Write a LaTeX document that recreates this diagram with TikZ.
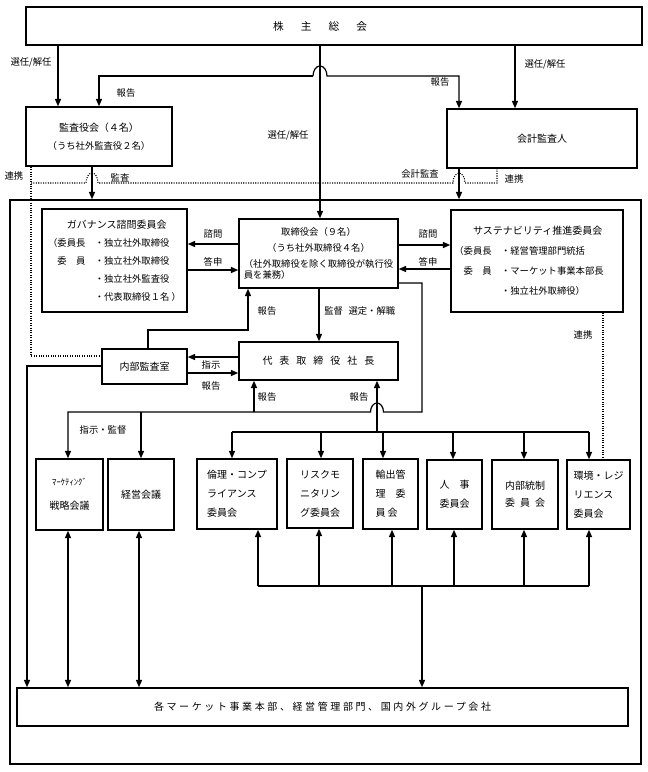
\documentclass[tikz,border=0pt]{standalone}
\usepackage{fontspec}
\setmainfont{Noto Sans CJK JP}
\usetikzlibrary{arrows.meta}

\tikzset{
  box/.style={draw, line width=1.2pt, inner sep=0pt, align=center, font=\fontsize{7}{13.5}\selectfont},
  sz/.style 2 args={minimum width=#1*0.75pt, minimum height=#2*0.75pt},
  cbox/.style={box, font=\fontsize{7.5}{14.25}\selectfont},
  wire/.style={line width=0.9pt},
  arr/.style={wire, -{Triangle[length=5.5pt,width=4.6pt]}},
  darr/.style={wire, {Triangle[length=5.5pt,width=4.6pt]}-{Triangle[length=5.5pt,width=4.6pt]}},
  link/.style={line width=0.8pt, densely dotted},
  lbl/.style={inner sep=0pt, font=\fontsize{7}{8}\selectfont},
}

\begin{document}
\begin{tikzpicture}[x=0.75pt,y=0.75pt,yscale=-1,xscale=1]
\useasboundingbox (0,0) rectangle (648,772);

%Shape: top boxes
\node[box, sz={616}{38}] (kabunushi) at (334,26) {};
\node[lbl, font=\fontsize{8}{9}\selectfont] (kabutxt) at (320,26) {株\hspace{1.6em}主\hspace{1.6em}総\hspace{1.6em}会};
\node[box, sz={146}{59}] (kansayaku) at (99,136.5) {{\fontsize{7.5}{9}\selectfont 監査役会（４名）}\\（うち社外監査役２名）};
\node[box, sz={190}{59}, font=\fontsize{7.5}{9}\selectfont] (kaikei) at (542,138.5) {会計監査人};

%Shape: frame
\node[box, sz={631}{564}] (frame) at (325.5,482) {};

%Shape: board and committees
\node[box, sz={145}{103}, align=left] (governance) at (114.5,260.5) {\hspace*{2em}{\fontsize{7.5}{9}\selectfont ガバナンス諮問委員会}\\
  \makebox[5em][l]{（委員長}・独立社外取締役\\
  \makebox[5em][l]{\hspace*{1em}委　員}・独立社外取締役\\
  \hspace*{5em}・独立社外監査役\\
  \hspace*{5em}・代表取締役１名 ）};
\node[box, sz={159}{69}, font=\fontsize{7}{12}\selectfont] (torishimari) at (318.5,253.5) {取締役会（９名）\\（うち社外取締役４名）\\（社外取締役を除く取締役が執行役\\[-3.5pt]\makebox[16em][l]{員を兼務）}};
\node[box, sz={172}{102}, align=left, font=\fontsize{7}{15}\selectfont] (sustain) at (537,261) {\hspace*{2em}{\fontsize{7.5}{9}\selectfont サステナビリティ推進委員会}\\
  \makebox[5em][l]{（委員長}・経営管理部門統括\\
  \makebox[5em][l]{\hspace*{1em}委　員}・マーケット事業本部長\rule{1.7em}{0pt}\\
  \hspace*{5em}・独立社外取締役）};

\node[box, sz={85}{35}, font=\fontsize{7.5}{9}\selectfont] (naibu) at (144.5,366.5) {内部監査室};
\node[box, sz={159}{38}, font=\fontsize{7.5}{9}\selectfont] (shacho) at (318.5,361) {代\hspace{.7em}表\hspace{.7em}取\hspace{.7em}締\hspace{.7em}役\hspace{.7em}社\hspace{.7em}長};

%Shape: meetings and committees
\node[cbox, sz={67}{71}] (mkt) at (69.5,494.5) {{\fontsize{6.5}{7}\selectfont ﾏｰｹﾃｨﾝｸﾞ}\\[4pt]戦略会議};
\node[cbox, sz={66}{71}] (keiei) at (141,494.5) {経営会議};
\node[cbox, sz={80}{70}, align=left] (rinri) at (237,494) {倫理・コンプ\\ライアンス\\委員会};
\node[cbox, sz={66}{69}, align=left] (risk) at (320,493.5) {リスクモ\\ニタリン\\グ委員会};
\node[cbox, sz={55}{70}, align=left] (yushutsu) at (390.5,494) {輸出管\\理　委\\員 会};
\node[cbox, sz={55}{69}] (jinji) at (454.5,494.5) {人　事\\委員会};
\node[cbox, sz={66}{69}, font=\fontsize{7.5}{12.75}\selectfont] (naibutousei) at (525,494.5) {内部統制\\委\hspace{.5em}員\hspace{.5em}会};
\node[cbox, sz={63}{69}, align=left] (kankyo) at (598.5,494.5) {環境・レジ\\リエンス\\委員会};

\node[box, sz={611}{38}, font=\fontsize{7.5}{9}\selectfont\addfontfeature{LetterSpace=26}] (bumon) at (322.5,707) {各マーケット事業本部、経営管理部門、国内外グループ会社};

%Straight Lines: shareholders
\draw[arr] (kabunushi.south -| 58,0) -- (kansayaku.north -| 58,0);
\draw[arr] (kabunushi.south -| 515,0) -- (kaikei.north -| 515,0);
\draw[arr] (kabunushi.south -| 320,0) -- (torishimari.north -| 320,0);
\draw[arr] (313,76) -- (99,76) -- (kansayaku.north -| 99,0);
\draw[arr] (313,76) arc[start angle=180,end angle=360,x radius=7,y radius=10] -- (459,76) -- (kaikei.north -| 459,0);

%Straight Lines: audit
\draw[arr] (kansayaku.south -| 92,0) -- (frame.north -| 92,0);
\draw[arr] (kaikei.south -| 459,0) -- (frame.north -| 459,0);
\draw[link] (kansayaku.south -| 31,0) -- (31,356) -- (naibu.west |- 0,356);
\draw[link] (31,183) -- (86,183) arc[start angle=180,end angle=360,x radius=6,y radius=10] -- (453,183) arc[start angle=180,end angle=360,x radius=6,y radius=10] -- (497,183) -- (kaikei.south -| 497,0);

%Straight Lines: board
\draw[arr] (torishimari.west |- 0,244) -- (governance.east |- 0,244);
\draw[arr] (governance.east |- 0,270) -- (torishimari.west |- 0,270);
\draw[arr] (torishimari.east |- 0,245) -- (sustain.west |- 0,245);
\draw[arr] (sustain.west |- 0,269) -- (torishimari.east |- 0,269);
\draw[arr] (torishimari.south -| 319,0) -- (shacho.north -| 319,0);
\draw[arr] (naibu.north -| 148,0) -- (148,330) -- (248,330) -- (torishimari.south -| 248,0);
\draw[arr] (shacho.west |- 0,357) -- (naibu.east |- 0,357);
\draw[arr] (naibu.east |- 0,373) -- (shacho.west |- 0,373);
\draw[arr] (naibu.west |- 0,366) -- (27,366) -- (bumon.north -| 27,0);

%Straight Lines: execution
\draw[arr] (torishimari.east |- 0,283) -- (422,283) -- (422,412) -- (383.5,412) arc[start angle=0,end angle=-180,x radius=6.5,y radius=9] -- (68,412) -- (mkt.north -| 68,0);
\draw[arr] (141,412) -- (keiei.north -| 141,0);
\draw[arr] (254,412) -- (shacho.south -| 254,0);
\draw[arr] (377,432) -- (shacho.south -| 377,0);
\draw[wire] (232,432) -- (589,432);
\foreach \nm/\xx in {rinri/232,risk/321,yushutsu/383,jinji/453,naibutousei/524,kankyo/589}
  \draw[arr] (\xx,432) -- (\nm.north -| \xx,0);
\draw[wire] (258,586) -- (589,586);
\foreach \nm/\xx in {rinri/258,risk/319,yushutsu/392,jinji/454,naibutousei/524,kankyo/589}
  \draw[arr] (\xx,586) -- (\nm.south -| \xx,0);
\draw[arr] (422,586) -- (bumon.north -| 422,0);
\draw[darr] (mkt.south -| 68,0) -- (bumon.north -| 68,0);
\draw[darr] (keiei.south -| 139,0) -- (bumon.north -| 139,0);
\draw[link] (sustain.south -| 603,0) -- (kankyo.north -| 603,0);

% Text Node
\node[lbl] (senninA) at (31,62) {選任/解任};
\node[lbl] (senninB) at (545,64) {選任/解任};
\node[lbl] (senninC) at (288,135) {選任/解任};
\node[lbl] (houkokuA) at (126,93) {報告};
\node[lbl] (houkokuB) at (440,82) {報告};
\node[lbl] (renkeiA) at (14,176) {連携};
\node[lbl] (kansa) at (120,178) {監査};
\node[lbl] (kaikeikansa) at (420,174) {会計監査};
\node[lbl] (renkeiB) at (514,179) {連携};
\node[lbl] (shimonA) at (213,234) {諮問};
\node[lbl] (toushinA) at (213,262) {答申};
\node[lbl] (shimonB) at (428,234) {諮問};
\node[lbl] (toushinB) at (428,262) {答申};
\node[lbl] (houkokuC) at (267,311) {報告};
\node[lbl, anchor=west] (kantoku) at (324,311) {監督\hspace{.6em}選定・解職};
\node[lbl] (shiji) at (211,365) {指示};
\node[lbl] (houkokuD) at (211,386) {報告};
\node[lbl] (houkokuE) at (267,397) {報告};
\node[lbl] (houkokuF) at (359,397) {報告};
\node[lbl] (shijikantoku) at (103,430) {指示・監督};
\node[lbl] (renkeiC) at (583,335) {連携};

\end{tikzpicture}
\end{document}
